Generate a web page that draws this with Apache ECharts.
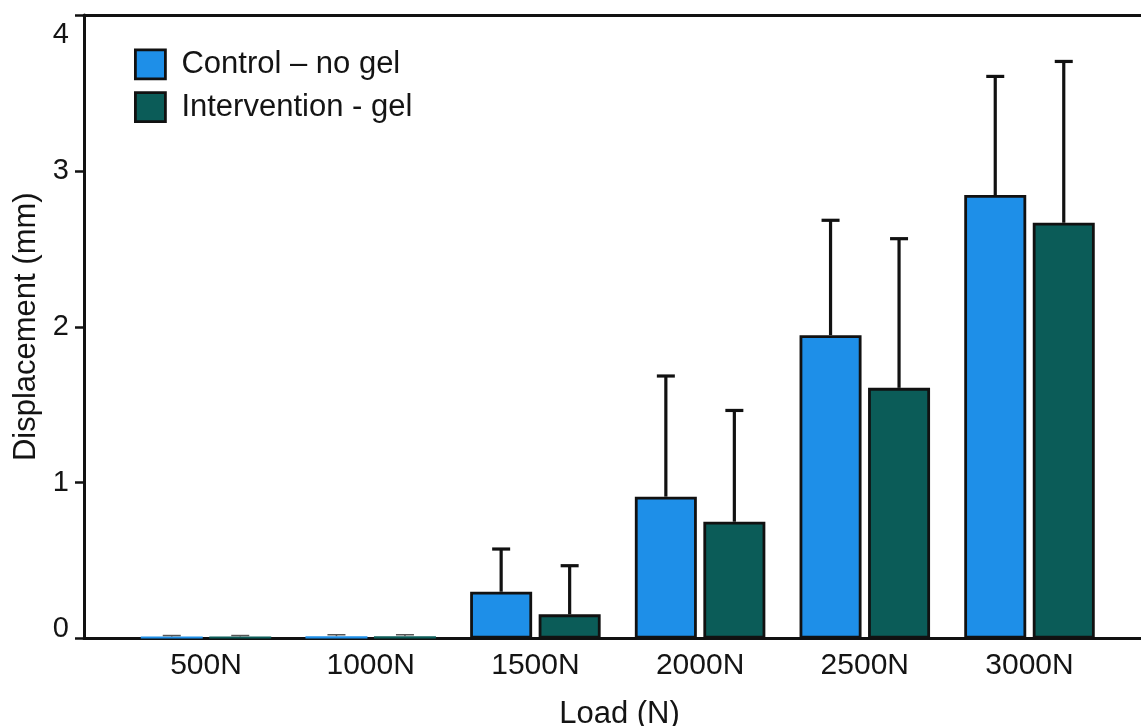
<!DOCTYPE html>
<html>
<head>
<meta charset="utf-8">
<script src="https://cdn.jsdelivr.net/npm/echarts@6/dist/echarts.min.js"></script>
<style>
  html, body { margin: 0; padding: 0; background: #ffffff; }
  #chart { width: 1141px; height: 726px; }
</style>
</head>
<body>
<div id="chart"></div>
<script>
// ---- data ----
const categories = ['500N', '1000N', '1500N', '2000N', '2500N', '3000N'];
const seriesNames = ['Control – no gel', 'Intervention - gel'];
const controlMean = [0.013, 0.015, 0.30, 0.91, 1.946, 2.845];
const controlSD   = [0.006, 0.009, 0.274, 0.774, 0.737, 0.761];
const gelMean     = [0.013, 0.015, 0.155, 0.749, 1.608, 2.667];
const gelSD       = [0.006, 0.009, 0.312, 0.714, 0.957, 1.035];
const yTicks = [0, 1, 2, 3, 4];

// ---- style ----
const FONT = '"Liberation Sans", Arial, Helvetica, sans-serif';
const TXT = '#141414';
const colors = ['#1E8FE8', '#0B5C58'];
const BAR_W = 62;
const BAR_GAP_PX = 6.5;
const OFFSET = (BAR_W + BAR_GAP_PX) / 2;

function barData(vals) {
  return vals.map(v => v < 0.05 ? { value: v, itemStyle: { borderWidth: 0 } } : v);
}
function errData(means, sds) {
  return means.map((m, i) => [i, m, sds[i]]);
}
function errSeries(name, means, sds, dir) {
  return {
    type: 'custom',
    name: name + ' err',
    xAxisIndex: 2,
    yAxisIndex: 1,
    z: 5,
    silent: true,
    data: errData(means, sds),
    renderItem: function (params, api) {
      const base = api.coord([api.value(0), api.value(1)]);
      const top = api.coord([api.value(0), api.value(1) + api.value(2)]);
      const x = base[0] + dir * OFFSET;
      const tiny = api.value(1) < 0.05;
      const st = { stroke: tiny ? '#555' : '#111', lineWidth: tiny ? 1.5 : 3.2 };
      return {
        type: 'group',
        children: [
          { type: 'line', shape: { x1: x, y1: base[1], x2: x, y2: top[1] }, style: st },
          { type: 'line', shape: { x1: x - 9, y1: top[1], x2: x + 9, y2: top[1] }, style: st }
        ]
      };
    }
  };
}

const chart = echarts.init(document.getElementById('chart'), null, { renderer: 'canvas' });
chart.setOption({
  animation: false,
  backgroundColor: '#ffffff',
  textStyle: { fontFamily: FONT },
  grid: [
    { left: 84, right: -14, top: 15, bottom: 87.5, outerBoundsMode: 'none', containLabel: false },
    { left: 123.65, width: 988.2, top: 15, bottom: 87.5, outerBoundsMode: 'none', containLabel: false }
  ],
  legend: {
    data: seriesNames,
    orient: 'vertical',
    left: 134,
    top: 48.5,
    padding: 0,
    itemWidth: 30,
    itemHeight: 29,
    itemGap: 11,
    icon: 'rect',
    itemStyle: { borderColor: '#111', borderWidth: 2.8 },
    textStyle: { fontFamily: FONT, fontSize: 31, color: TXT, padding: [0, 0, 0, 11] }
  },
  xAxis: [
    {
      type: 'value', gridIndex: 0, min: 0, max: 1, position: 'bottom',
      axisLine: { show: true, lineStyle: { color: '#111', width: 3 } },
      axisTick: { show: false }, axisLabel: { show: false }, splitLine: { show: false },
      name: 'Load (N)', nameLocation: 'middle', nameGap: 60,
      nameTextStyle: { fontFamily: FONT, fontSize: 31, color: TXT }
    },
    {
      type: 'value', gridIndex: 0, min: 0, max: 1, position: 'top',
      axisLine: { show: true, lineStyle: { color: '#111', width: 3 } },
      axisTick: { show: false }, axisLabel: { show: false }, splitLine: { show: false }
    },
    {
      type: 'category', gridIndex: 1, data: categories,
      axisLine: { show: false }, axisTick: { show: false }, splitLine: { show: false },
      axisLabel: { margin: 12, fontFamily: FONT, fontSize: 30, color: TXT }
    }
  ],
  yAxis: [
    {
      type: 'value', gridIndex: 0, min: 0, max: 4, interval: 1,
      axisLine: { show: true, lineStyle: { color: '#111', width: 3 } },
      axisTick: { show: true, length: 9, lineStyle: { color: '#111', width: 2.5 } },
      splitLine: { show: false },
      axisLabel: {
        margin: 15, fontFamily: FONT, fontSize: 29, color: TXT,
        formatter: function (v) {
          if (v === yTicks[0]) return '{lo|' + v + '}';
          if (v === yTicks[yTicks.length - 1]) return '{hi|' + v + '}';
          return String(v);
        },
        rich: {
          lo: { fontFamily: FONT, fontSize: 29, color: TXT, padding: [0, 0, 20, 0] },
          hi: { fontFamily: FONT, fontSize: 29, color: TXT, padding: [40, 0, 0, 0] }
        }
      },
      name: 'Displacement (mm)', nameLocation: 'middle', nameGap: 41,
      nameTextStyle: { fontFamily: FONT, fontSize: 31, color: TXT }
    },
    {
      type: 'value', gridIndex: 1, min: 0, max: 4, interval: 1, show: false
    }
  ],
  series: [
    {
      type: 'bar', name: seriesNames[0], xAxisIndex: 2, yAxisIndex: 1,
      barWidth: BAR_W, barGap: (BAR_GAP_PX / BAR_W * 100).toFixed(1) + '%',
      itemStyle: { color: colors[0], borderColor: '#111', borderWidth: 2.8 },
      data: barData(controlMean)
    },
    {
      type: 'bar', name: seriesNames[1], xAxisIndex: 2, yAxisIndex: 1,
      barWidth: BAR_W,
      itemStyle: { color: colors[1], borderColor: '#111', borderWidth: 2.8 },
      data: barData(gelMean)
    },
    errSeries(seriesNames[0], controlMean, controlSD, -1),
    errSeries(seriesNames[1], gelMean, gelSD, 1)
  ]
});
</script>
</body>
</html>
